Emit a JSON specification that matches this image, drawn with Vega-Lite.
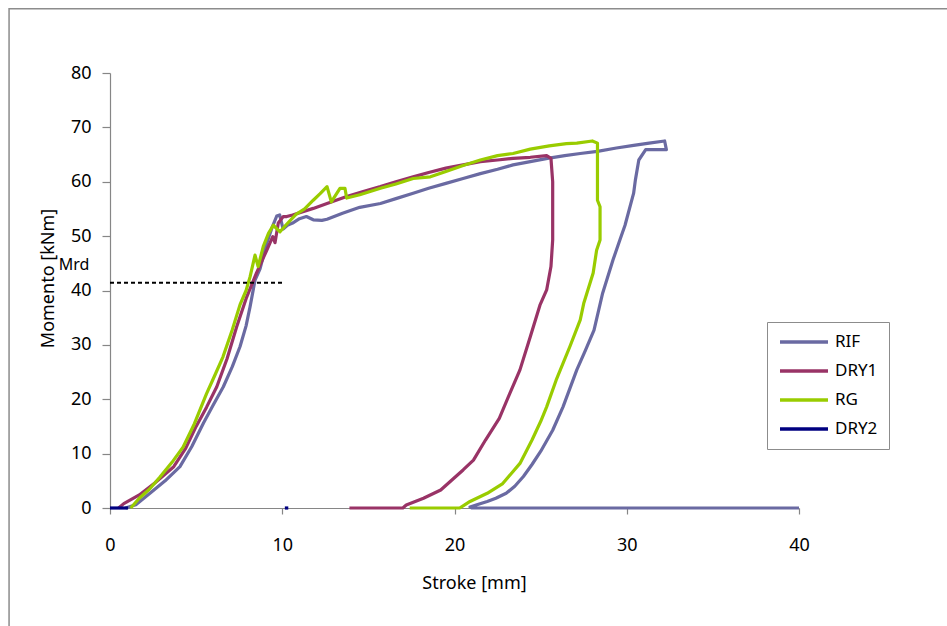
{
  "$schema": "https://vega.github.io/schema/vega-lite/v6.json",
  "width": 689,
  "height": 435,
  "autosize": {"type": "none"},
  "padding": {"left": 110, "top": 73, "right": 148, "bottom": 118},
  "background": "white",
  "config": {
    "view": {"stroke": null},
    "font": "Noto Sans",
    "axis": {"grid": false, "domainColor": "#868686", "tickColor": "#868686", "labelColor": "#000000", "titleColor": "#000000", "labelFont": "Noto Sans", "titleFont": "Noto Sans", "labelFontSize": 18, "titleFontSize": 18, "titleFontWeight": "normal", "domainWidth": 1.2, "tickWidth": 1.2, "labelFlush": false},
    "legend": {"labelFont": "Noto Sans"}
  },
  "encoding": {
    "x": {"field": "x", "type": "quantitative", "scale": {"domain": [0, 40], "nice": false},
          "axis": {"values": [0, 10, 20, 30, 40], "tickSize": 6, "labelPadding": 22, "labelFlush": false, "title": "Stroke [mm]", "titleX": 364, "titleY": 75, "titleBaseline": "middle", "titleAlign": "center"}},
    "y": {"field": "y", "type": "quantitative", "scale": {"domain": [0, 80], "nice": false},
          "axis": {"values": [0, 10, 20, 30, 40, 50, 60, 70, 80], "tickSize": 8, "labelPadding": 11, "labelFlush": false, "title": "Momento [kNm]", "titleX": -62, "titleY": 205, "titleBaseline": "middle", "titleAlign": "center", "titleAngle": -90}}
  },
  "layer": [
    {
      "data": {"values": [{"x": -5.86, "x2": 60, "y": 91.8, "y2": -30}]},
      "mark": {"type": "rect", "fill": null, "fillOpacity": 0, "stroke": "#8c8c8c", "strokeWidth": 1.5, "clip": false},
      "encoding": {
        "x2": {"field": "x2"},
        "y2": {"field": "y2"}
      }
    },
    {
      "data": {"values": [
        {"s":"RIF","i":0,"x":0.9,"y":0},{"s":"RIF","i":1,"x":1.5,"y":0.6},{"s":"RIF","i":2,"x":2.32,"y":2.7},{"s":"RIF","i":3,"x":3.2,"y":5},{"s":"RIF","i":4,"x":4.06,"y":7.6},{"s":"RIF","i":5,"x":4.75,"y":11.3},{"s":"RIF","i":6,"x":5.42,"y":15.6},{"s":"RIF","i":7,"x":6.0,"y":19},{"s":"RIF","i":8,"x":6.58,"y":22.3},{"s":"RIF","i":9,"x":7.1,"y":26},{"s":"RIF","i":10,"x":7.55,"y":29.7},{"s":"RIF","i":11,"x":7.9,"y":33.5},{"s":"RIF","i":12,"x":8.13,"y":37},{"s":"RIF","i":13,"x":8.42,"y":41.9},{"s":"RIF","i":14,"x":8.71,"y":44},{"s":"RIF","i":15,"x":9.1,"y":48.7},{"s":"RIF","i":16,"x":9.4,"y":51.5},{"s":"RIF","i":17,"x":9.68,"y":53.7},{"s":"RIF","i":18,"x":9.85,"y":53.9},{"s":"RIF","i":19,"x":10.05,"y":51.3},{"s":"RIF","i":20,"x":10.3,"y":52},{"s":"RIF","i":21,"x":10.6,"y":52.4},{"s":"RIF","i":22,"x":11.0,"y":53.2},{"s":"RIF","i":23,"x":11.4,"y":53.6},{"s":"RIF","i":24,"x":11.8,"y":53.0},{"s":"RIF","i":25,"x":12.3,"y":52.9},{"s":"RIF","i":26,"x":12.6,"y":53.1},{"s":"RIF","i":27,"x":13.5,"y":54.2},{"s":"RIF","i":28,"x":14.5,"y":55.3},{"s":"RIF","i":29,"x":15.7,"y":56},{"s":"RIF","i":30,"x":16.6,"y":56.9},{"s":"RIF","i":31,"x":17.6,"y":57.9},{"s":"RIF","i":32,"x":18.5,"y":58.8},{"s":"RIF","i":33,"x":19.5,"y":59.7},{"s":"RIF","i":34,"x":20.5,"y":60.6},{"s":"RIF","i":35,"x":21.5,"y":61.5},{"s":"RIF","i":36,"x":22.5,"y":62.3},{"s":"RIF","i":37,"x":23.4,"y":63.1},{"s":"RIF","i":38,"x":24.4,"y":63.7},{"s":"RIF","i":39,"x":25.4,"y":64.3},{"s":"RIF","i":40,"x":26.4,"y":64.8},{"s":"RIF","i":41,"x":27.3,"y":65.2},{"s":"RIF","i":42,"x":28.3,"y":65.6},{"s":"RIF","i":43,"x":29.4,"y":66.2},{"s":"RIF","i":44,"x":30.4,"y":66.7},{"s":"RIF","i":45,"x":31.3,"y":67.1},{"s":"RIF","i":46,"x":32.2,"y":67.5},{"s":"RIF","i":47,"x":32.3,"y":65.9},{"s":"RIF","i":48,"x":31.1,"y":65.9},{"s":"RIF","i":49,"x":30.7,"y":64},{"s":"RIF","i":50,"x":30.5,"y":60.3},{"s":"RIF","i":51,"x":30.4,"y":57.9},{"s":"RIF","i":52,"x":29.9,"y":52},{"s":"RIF","i":53,"x":29.6,"y":49.3},{"s":"RIF","i":54,"x":29.2,"y":45.6},{"s":"RIF","i":55,"x":28.6,"y":39.5},{"s":"RIF","i":56,"x":28.1,"y":32.7},{"s":"RIF","i":57,"x":27.6,"y":29},{"s":"RIF","i":58,"x":27.1,"y":25.4},{"s":"RIF","i":59,"x":26.3,"y":18.6},{"s":"RIF","i":60,"x":25.7,"y":14.3},{"s":"RIF","i":61,"x":25.0,"y":10.4},{"s":"RIF","i":62,"x":24.5,"y":8},{"s":"RIF","i":63,"x":24.0,"y":5.8},{"s":"RIF","i":64,"x":23.5,"y":4},{"s":"RIF","i":65,"x":23.0,"y":2.7},{"s":"RIF","i":66,"x":22.4,"y":1.8},{"s":"RIF","i":67,"x":21.9,"y":1.2},{"s":"RIF","i":68,"x":21.3,"y":0.6},{"s":"RIF","i":69,"x":20.9,"y":0.2},{"s":"RIF","i":70,"x":21.0,"y":0},{"s":"RIF","i":71,"x":40,"y":0},
        {"s":"DRY1","i":0,"x":0.5,"y":0},{"s":"DRY1","i":1,"x":0.8,"y":0.8},{"s":"DRY1","i":2,"x":1.7,"y":2.4},{"s":"DRY1","i":3,"x":2.6,"y":4.6},{"s":"DRY1","i":4,"x":3.7,"y":7.6},{"s":"DRY1","i":5,"x":4.4,"y":11},{"s":"DRY1","i":6,"x":5.0,"y":15},{"s":"DRY1","i":7,"x":5.6,"y":18.5},{"s":"DRY1","i":8,"x":6.2,"y":22.3},{"s":"DRY1","i":9,"x":6.8,"y":27.5},{"s":"DRY1","i":10,"x":7.35,"y":33.3},{"s":"DRY1","i":11,"x":7.9,"y":38.5},{"s":"DRY1","i":12,"x":8.5,"y":43.2},{"s":"DRY1","i":13,"x":9.1,"y":47.4},{"s":"DRY1","i":14,"x":9.45,"y":49.9},{"s":"DRY1","i":15,"x":9.58,"y":48.8},{"s":"DRY1","i":16,"x":9.77,"y":52.4},{"s":"DRY1","i":17,"x":10.06,"y":53.6},{"s":"DRY1","i":18,"x":10.26,"y":53.6},{"s":"DRY1","i":19,"x":10.6,"y":53.9},{"s":"DRY1","i":20,"x":11.8,"y":55.1},{"s":"DRY1","i":21,"x":12.6,"y":56},{"s":"DRY1","i":22,"x":13.74,"y":57.3},{"s":"DRY1","i":23,"x":14.7,"y":58.2},{"s":"DRY1","i":24,"x":15.7,"y":59.1},{"s":"DRY1","i":25,"x":16.6,"y":60},{"s":"DRY1","i":26,"x":17.6,"y":60.9},{"s":"DRY1","i":27,"x":18.5,"y":61.7},{"s":"DRY1","i":28,"x":19.5,"y":62.5},{"s":"DRY1","i":29,"x":20.5,"y":63.1},{"s":"DRY1","i":30,"x":21.5,"y":63.7},{"s":"DRY1","i":31,"x":22.5,"y":64},{"s":"DRY1","i":32,"x":23.4,"y":64.3},{"s":"DRY1","i":33,"x":24.4,"y":64.5},{"s":"DRY1","i":34,"x":25.35,"y":64.8},{"s":"DRY1","i":35,"x":25.6,"y":64.3},{"s":"DRY1","i":36,"x":25.7,"y":60},{"s":"DRY1","i":37,"x":25.7,"y":49.3},{"s":"DRY1","i":38,"x":25.6,"y":44.4},{"s":"DRY1","i":39,"x":25.35,"y":40.1},{"s":"DRY1","i":40,"x":24.96,"y":37.3},{"s":"DRY1","i":41,"x":24.4,"y":31.5},{"s":"DRY1","i":42,"x":23.8,"y":25.4},{"s":"DRY1","i":43,"x":23.2,"y":21},{"s":"DRY1","i":44,"x":22.6,"y":16.5},{"s":"DRY1","i":45,"x":21.8,"y":12.5},{"s":"DRY1","i":46,"x":21.1,"y":8.8},{"s":"DRY1","i":47,"x":20.5,"y":7},{"s":"DRY1","i":48,"x":19.8,"y":5},{"s":"DRY1","i":49,"x":19.2,"y":3.3},{"s":"DRY1","i":50,"x":18.2,"y":1.8},{"s":"DRY1","i":51,"x":17.2,"y":0.55},{"s":"DRY1","i":52,"x":17.0,"y":0},{"s":"DRY1","i":53,"x":13.9,"y":0},
        {"s":"RG","i":0,"x":1.2,"y":0},{"s":"RG","i":1,"x":1.7,"y":1.8},{"s":"RG","i":2,"x":2.3,"y":3.5},{"s":"RG","i":3,"x":2.9,"y":5.7},{"s":"RG","i":4,"x":3.6,"y":8.4},{"s":"RG","i":5,"x":4.24,"y":11.2},{"s":"RG","i":6,"x":4.9,"y":15.5},{"s":"RG","i":7,"x":5.6,"y":21},{"s":"RG","i":8,"x":6.1,"y":24.5},{"s":"RG","i":9,"x":6.56,"y":27.8},{"s":"RG","i":10,"x":7.1,"y":32.8},{"s":"RG","i":11,"x":7.55,"y":37.4},{"s":"RG","i":12,"x":7.9,"y":40},{"s":"RG","i":13,"x":8.13,"y":42.5},{"s":"RG","i":14,"x":8.42,"y":46.5},{"s":"RG","i":15,"x":8.6,"y":44.4},{"s":"RG","i":16,"x":8.9,"y":48.1},{"s":"RG","i":17,"x":9.2,"y":50.5},{"s":"RG","i":18,"x":9.48,"y":52},{"s":"RG","i":19,"x":9.87,"y":50.8},{"s":"RG","i":20,"x":10.2,"y":52},{"s":"RG","i":21,"x":10.8,"y":54},{"s":"RG","i":22,"x":11.3,"y":55},{"s":"RG","i":23,"x":11.8,"y":56.6},{"s":"RG","i":24,"x":12.2,"y":57.8},{"s":"RG","i":25,"x":12.6,"y":59.1},{"s":"RG","i":26,"x":12.85,"y":56.3},{"s":"RG","i":27,"x":13.35,"y":58.8},{"s":"RG","i":28,"x":13.64,"y":58.8},{"s":"RG","i":29,"x":13.74,"y":57},{"s":"RG","i":30,"x":14.5,"y":57.6},{"s":"RG","i":31,"x":15.7,"y":58.8},{"s":"RG","i":32,"x":16.6,"y":59.6},{"s":"RG","i":33,"x":17.6,"y":60.6},{"s":"RG","i":34,"x":18.6,"y":60.9},{"s":"RG","i":35,"x":19.5,"y":61.9},{"s":"RG","i":36,"x":20.5,"y":63},{"s":"RG","i":37,"x":21.5,"y":64},{"s":"RG","i":38,"x":22.5,"y":64.8},{"s":"RG","i":39,"x":23.4,"y":65.2},{"s":"RG","i":40,"x":24.4,"y":66},{"s":"RG","i":41,"x":25.5,"y":66.6},{"s":"RG","i":42,"x":26.5,"y":67},{"s":"RG","i":43,"x":27.1,"y":67.1},{"s":"RG","i":44,"x":28.0,"y":67.5},{"s":"RG","i":45,"x":28.3,"y":67.1},{"s":"RG","i":46,"x":28.3,"y":56.6},{"s":"RG","i":47,"x":28.45,"y":55.4},{"s":"RG","i":48,"x":28.45,"y":49.3},{"s":"RG","i":49,"x":28.25,"y":47.4},{"s":"RG","i":50,"x":28.05,"y":43.2},{"s":"RG","i":51,"x":27.5,"y":37.6},{"s":"RG","i":52,"x":27.3,"y":34.6},{"s":"RG","i":53,"x":26.7,"y":29.7},{"s":"RG","i":54,"x":25.9,"y":23.5},{"s":"RG","i":55,"x":25.35,"y":18.6},{"s":"RG","i":56,"x":25.0,"y":15.9},{"s":"RG","i":57,"x":24.5,"y":12.5},{"s":"RG","i":58,"x":23.8,"y":8.2},{"s":"RG","i":59,"x":22.8,"y":4.5},{"s":"RG","i":60,"x":21.9,"y":2.7},{"s":"RG","i":61,"x":20.9,"y":1.2},{"s":"RG","i":62,"x":20.5,"y":0.4},{"s":"RG","i":63,"x":20.3,"y":0},{"s":"RG","i":64,"x":17.4,"y":0},
        {"s":"DRY2","part":"a","i":0,"x":0,"y":0},{"s":"DRY2","part":"a","i":1,"x":1.05,"y":0},
        {"s":"DRY2","part":"b","i":2,"x":10.15,"y":0},{"s":"DRY2","part":"b","i":3,"x":10.35,"y":0}
      ]},
      "mark": {"type": "line", "strokeWidth": 3.2, "strokeJoin": "round"},
      "encoding": {
        "color": {"field": "s", "type": "nominal",
                  "scale": {"domain": ["RIF", "DRY1", "RG", "DRY2"], "range": ["#6A6AA2", "#993366", "#99CC00", "#000080"]},
                  "legend": {"title": null, "orient": "none", "legendX": 657, "legendY": 249, "strokeColor": "#8c8c8c", "fillColor": "white", "padding": 11, "symbolType": "stroke", "symbolSize": 2304, "symbolStrokeWidth": 3.5, "labelFontSize": 17, "labelOffset": 5, "rowPadding": 11, "clipHeight": 18, "labelColor": "#000000"}},
        "detail": {"field": "part"},
        "order": {"field": "i", "type": "quantitative"}
      }
    },
    {
      "data": {"values": [{"x": 0, "x2": 10.05, "y": 41.43}]},
      "mark": {"type": "rule", "color": "#000000", "strokeWidth": 2, "strokeDash": [4, 3]},
      "encoding": {
        "x2": {"field": "x2"}
      }
    },
    {
      "data": {"values": [{"label": "Mrd", "x": -2.09, "y": 44.6}]},
      "mark": {"type": "text", "fontSize": 16, "font": "Noto Sans", "color": "#000000", "align": "center", "baseline": "middle", "clip": false},
      "encoding": {
        "text": {"field": "label"}
      }
    }
  ]
}
